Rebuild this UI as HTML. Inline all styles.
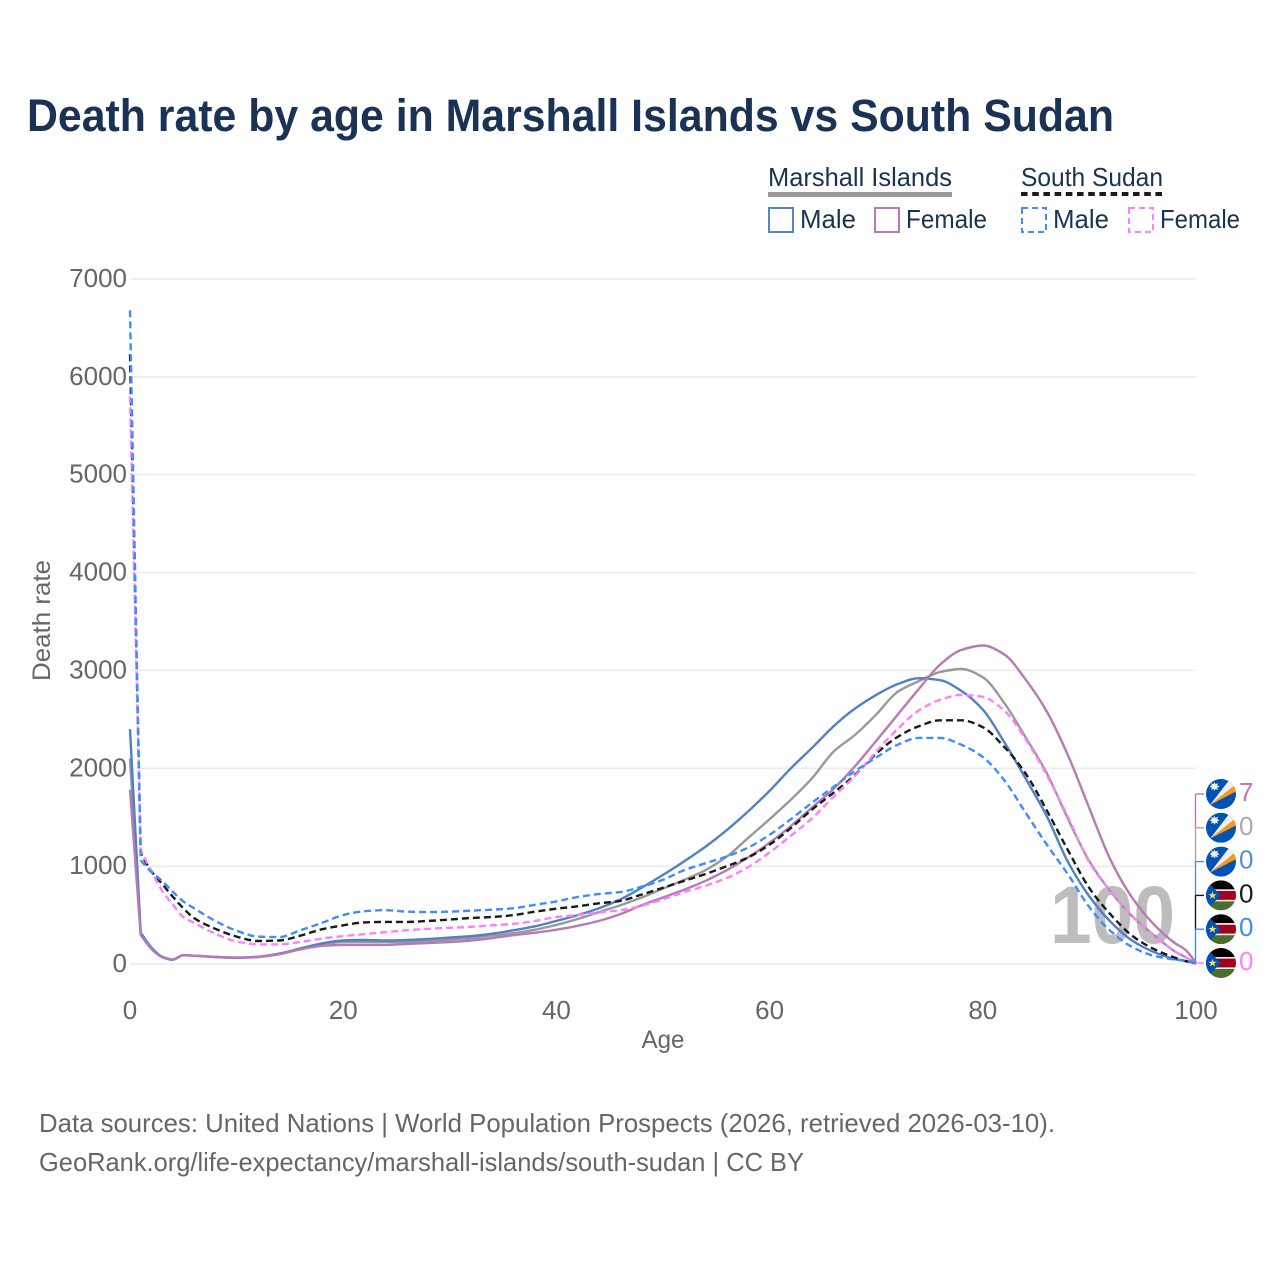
<!DOCTYPE html>
<html lang="en">
<head>
<meta charset="utf-8">
<title>Death rate by age in Marshall Islands vs South Sudan</title>
<style>
html,body{margin:0;padding:0;background:#fff;}
svg{display:block;font-family:"Liberation Sans",sans-serif;}
</style>
</head>
<body>
<svg id="chart" xmlns="http://www.w3.org/2000/svg" width="1280" height="1280" viewBox="0 0 1280 1280">
  <defs>
    <clipPath id="flag-clip"><circle cx="0" cy="0" r="15"/></clipPath>
    <g id="flag-mh">
      <g clip-path="url(#flag-clip)">
        <rect x="-15" y="-15" width="30" height="30" fill="#0052b4"/>
        <polygon points="-11,11 9,-15 13,-8" fill="#f0f0f0"/>
        <polygon points="-11,11 13,-8 16,-3" fill="#ff9811"/>
        <polygon points="-6.5,-12 -5.4,-9.8 -3,-11 -3.8,-8.6 -1.4,-7.5 -3.8,-6.4 -3,-4 -5.4,-5.2 -6.5,-3 -7.6,-5.2 -10,-4 -9.2,-6.4 -11.6,-7.5 -9.2,-8.6 -10,-11 -7.6,-9.8" fill="#f0f0f0"/>
      </g>
    </g>
    <g id="flag-ss">
      <g clip-path="url(#flag-clip)">
        <rect x="-15" y="-15" width="30" height="9" fill="#000"/>
        <rect x="-15" y="-6" width="30" height="12" fill="#f0f0f0"/>
        <rect x="-15" y="-4.4" width="30" height="8.8" fill="#a2001d"/>
        <rect x="-15" y="6" width="30" height="9" fill="#496e2d"/>
        <polygon points="-15,-15 0,0 -15,15" fill="#0052b4"/>
        <polygon points="-8.5,-4 -7.4,-1.2 -4.4,-1.2 -6.8,0.6 -5.9,3.4 -8.5,1.7 -11.1,3.4 -10.2,0.6 -12.6,-1.2 -9.6,-1.2" fill="#ffda44"/>
      </g>
    </g>
  </defs>

  <text x="27" y="131" font-size="45" font-weight="700" fill="#1a3354" textLength="1087" lengthAdjust="spacingAndGlyphs">Death rate by age in Marshall Islands vs South Sudan</text>

  <g font-size="26" fill="#1a3354">
    <g>
      <text x="768" y="186" textLength="184" lengthAdjust="spacingAndGlyphs">Marshall Islands</text>
      <line x1="768" x2="952" y1="194.5" y2="194.5" stroke="#999" stroke-width="5"/>
    </g>
    <g>
      <text x="1021" y="186" textLength="142" lengthAdjust="spacingAndGlyphs">South Sudan</text>
      <line x1="1021" x2="1163" y1="194" y2="194" stroke="#1a1a1a" stroke-width="4" stroke-dasharray="6.6 4.6"/>
    </g>
    <g>
      <rect x="769" y="208" width="24" height="24" fill="none" stroke="#5585c8" stroke-width="2"/>
      <text x="800" y="228" textLength="56" lengthAdjust="spacingAndGlyphs">Male</text>
    </g>
    <g>
      <rect x="875" y="208" width="24" height="24" fill="none" stroke="#b87ab5" stroke-width="2"/>
      <text x="906" y="228" textLength="81" lengthAdjust="spacingAndGlyphs">Female</text>
    </g>
    <g>
      <rect x="1022" y="208" width="24" height="24" fill="none" stroke="#3f8cff" stroke-width="2" stroke-dasharray="6 4"/>
      <text x="1053" y="228" textLength="56" lengthAdjust="spacingAndGlyphs">Male</text>
    </g>
    <g>
      <rect x="1129" y="208" width="24" height="24" fill="none" stroke="#ff80ff" stroke-width="2" stroke-dasharray="6 4"/>
      <text x="1160" y="228" textLength="80" lengthAdjust="spacingAndGlyphs">Female</text>
    </g>
  </g>

  <g id="grid"></g>
  <g id="ytick-labels"></g>
  <g id="xtick-labels"></g>

  <text transform="translate(50 620.5) rotate(-90)" text-anchor="middle" font-size="25" fill="#666" textLength="121" lengthAdjust="spacingAndGlyphs">Death rate</text>
  <text x="663" y="1048" text-anchor="middle" font-size="25" fill="#666" textLength="43" lengthAdjust="spacingAndGlyphs">Age</text>

  <text x="1050" y="943" font-size="82" font-weight="700" fill="#bdbdbd" textLength="125" lengthAdjust="spacingAndGlyphs">100</text>

  <g id="series" fill="none"></g>

  <g id="end-markers"></g>

  <g font-size="26" fill="#666">
    <text x="39" y="1132" textLength="1016" lengthAdjust="spacingAndGlyphs">Data sources: United Nations | World Population Prospects (2026, retrieved 2026-03-10).</text>
    <text x="39" y="1171" textLength="765" lengthAdjust="spacingAndGlyphs">GeoRank.org/life-expectancy/marshall-islands/south-sudan | CC BY</text>
  </g>
</svg>

<script>
var ages = [0,1,2,3,4,5,6,8,10,12,14,16,18,20,22,24,26,28,30,32,34,36,38,40,42,44,46,48,50,52,54,56,58,60,62,64,66,68,70,72,74,76,78,80,82,84,86,88,90,92,94,96,98,99,100];
var marshallBoth = [2100,310,165,72,45,90,85,72,65,75,105,155,200,225,225,225,225,235,250,265,290,315,350,400,460,530,600,680,770,860,960,1100,1290,1480,1680,1900,2170,2340,2550,2780,2890,2985,3015,2930,2670,2320,1950,1480,1050,740,490,300,130,70,10];
var marshallMale = [2400,320,170,75,45,90,85,72,62,72,105,160,210,240,245,240,245,255,270,285,310,345,385,440,500,570,660,780,910,1050,1200,1370,1560,1770,2000,2210,2430,2610,2750,2860,2920,2900,2790,2600,2270,1900,1510,1040,690,430,240,125,50,30,5];
var marshallFemale = [1780,295,155,70,42,90,85,72,65,72,100,150,185,195,195,195,205,215,225,240,265,295,320,350,390,440,510,600,680,760,850,960,1090,1240,1410,1600,1790,2020,2280,2545,2810,3060,3210,3255,3165,2910,2580,2130,1590,1060,680,410,215,145,15];
var southSudanBoth = [6230,1130,950,820,690,570,470,360,280,235,240,290,355,395,425,430,430,440,455,470,480,500,535,565,590,620,645,710,780,850,920,1000,1090,1220,1390,1580,1750,1930,2150,2320,2430,2490,2490,2420,2220,1950,1570,1160,775,505,290,155,65,30,8];
var southSudanMale = [6680,1060,940,850,740,640,570,440,340,280,275,345,420,500,540,550,535,530,535,545,555,570,605,640,685,715,735,790,860,960,1030,1100,1190,1320,1480,1650,1810,1970,2110,2240,2310,2310,2240,2115,1880,1550,1220,915,580,335,175,85,45,35,10];
var southSudanFemale = [5800,1160,950,750,610,480,420,310,230,200,200,225,260,285,305,325,345,360,370,380,395,410,440,480,500,525,550,595,660,735,800,880,990,1140,1310,1490,1710,1920,2170,2400,2590,2700,2750,2730,2590,2300,1930,1500,1040,740,490,300,130,70,10];
var yTickValues = [0,1000,2000,3000,4000,5000,6000,7000];
var xTickValues = [0,20,40,60,80,100];
var endValues = [7,0,0,0,0,0];
var endLabels = ["marshall-female","marshall-both","marshall-male","south-sudan-both","south-sudan-male","south-sudan-female"];

var NS = "http://www.w3.org/2000/svg";
function xScale(a){ return 130 + a * 10.66; }
function yScale(v){ return 964 - v * 0.09786; }
function make(tag, parent){
  var n = document.createElementNS(NS, tag);
  parent.appendChild(n);
  return n;
}

/* Monotone cubic path through the points, so the curves stay smooth without overshoot. */
function smoothPath(xs, ys){
  var n = xs.length, dx = [], m = [], t = [], i;
  for (i = 0; i < n - 1; i++) {
    dx[i] = xs[i + 1] - xs[i];
    m[i] = (ys[i + 1] - ys[i]) / dx[i];
  }
  t[0] = m[0];
  t[n - 1] = m[n - 2];
  for (i = 1; i < n - 1; i++) {
    if (m[i - 1] * m[i] <= 0) { t[i] = 0; }
    else {
      var w1 = 2 * dx[i] + dx[i - 1], w2 = dx[i] + 2 * dx[i - 1];
      t[i] = (w1 + w2) / (w1 / m[i - 1] + w2 / m[i]);
    }
  }
  var d = "M" + xs[0].toFixed(1) + " " + ys[0].toFixed(1);
  for (i = 0; i < n - 1; i++) {
    var h = dx[i] / 3;
    d += "C" + (xs[i] + h).toFixed(1) + " " + (ys[i] + t[i] * h).toFixed(1) + " " +
         (xs[i + 1] - h).toFixed(1) + " " + (ys[i + 1] - t[i + 1] * h).toFixed(1) + " " +
         xs[i + 1].toFixed(1) + " " + ys[i + 1].toFixed(1);
  }
  return d;
}

var grid = document.getElementById("grid");
var yLabels = document.getElementById("ytick-labels");
yTickValues.forEach(function(v){
  var l = make("line", grid);
  
  
  l.setAttribute("x1", xScale(0));
  l.setAttribute("x2", xScale(100));
  l.setAttribute("y1", yScale(v));
  l.setAttribute("y2", yScale(v));
  l.setAttribute("stroke", "#ececec");
  l.setAttribute("stroke-width", "1.6");
  var t = make("text", yLabels);
  
  
  t.setAttribute("x", 127);
  t.setAttribute("y", yScale(v) + 8);
  t.setAttribute("text-anchor", "end");
  t.setAttribute("font-size", "26");
  t.setAttribute("fill", "#666");
  t.textContent = String(v);
});

var xLabels = document.getElementById("xtick-labels");
xTickValues.forEach(function(a){
  var t = make("text", xLabels);
  
  
  t.setAttribute("x", xScale(a));
  t.setAttribute("y", 1019);
  t.setAttribute("text-anchor", "middle");
  t.setAttribute("font-size", "26");
  t.setAttribute("fill", "#666");
  t.textContent = String(a);
});

function drawSeries(name, values, color, dash){
  var p = make("path", document.getElementById("series"));
  
  
  var px = ages.map(xScale);
  var py = values.map(yScale);
  /* The first segment (age 0 to 1) is a straight drop; the rest is smoothed. */
  var d = "M" + px[0].toFixed(1) + " " + py[0].toFixed(1) + smoothPath(px.slice(1), py.slice(1)).replace(/^M/, "L");
  p.setAttribute("d", d);
  p.setAttribute("stroke", color);
  p.setAttribute("stroke-width", "2.4");
  p.setAttribute("stroke-linejoin", "round");
  if (dash) { p.setAttribute("stroke-dasharray", dash); }
}
drawSeries("marshall-both", marshallBoth, "#999999", null);
drawSeries("marshall-male", marshallMale, "#5080c6", null);
drawSeries("marshall-female", marshallFemale, "#b87ab5", null);
drawSeries("south-sudan-both", southSudanBoth, "#1a1a1a", "7 4");
drawSeries("south-sudan-female", southSudanFemale, "#ff80ff", "7 4");
drawSeries("south-sudan-male", southSudanMale, "#3f8cff", "7 4");

var markerColors = ["#b87ab5","#aaaaaa","#5c8bd0","#1a1a1a","#3f8cff","#ff80ff"];
var markerFlags = ["#flag-mh","#flag-mh","#flag-mh","#flag-ss","#flag-ss","#flag-ss"];
var markers = document.getElementById("end-markers");
endLabels.forEach(function(name, i){
  var yy = 794 + i * 33.8;
  var g = make("g", markers);
  
  
  if (i < 5) {
    var v = make("line", g);
    
    
    v.setAttribute("x1", 1195.5);
    v.setAttribute("x2", 1195.5);
    v.setAttribute("y1", yy);
    v.setAttribute("y2", yy + 33.8);
    v.setAttribute("stroke", markerColors[i]);
    v.setAttribute("stroke-width", "1.4");
  }
  var h = make("line", g);
  
  
  h.setAttribute("x1", 1195.5);
  h.setAttribute("x2", 1204);
  h.setAttribute("y1", yy);
  h.setAttribute("y2", yy);
  h.setAttribute("stroke", markerColors[i]);
  h.setAttribute("stroke-width", "1.4");
  var u = make("use", g);
  
  
  u.setAttribute("href", markerFlags[i]);
  u.setAttribute("transform", "translate(1221 " + yy + ")");
  var t = make("text", g);
  
  
  t.setAttribute("x", 1239);
  t.setAttribute("y", yy + 7);
  t.setAttribute("font-size", "26");
  t.setAttribute("fill", markerColors[i]);
  t.textContent = String(endValues[i]);
});
</script>
</body>
</html>
